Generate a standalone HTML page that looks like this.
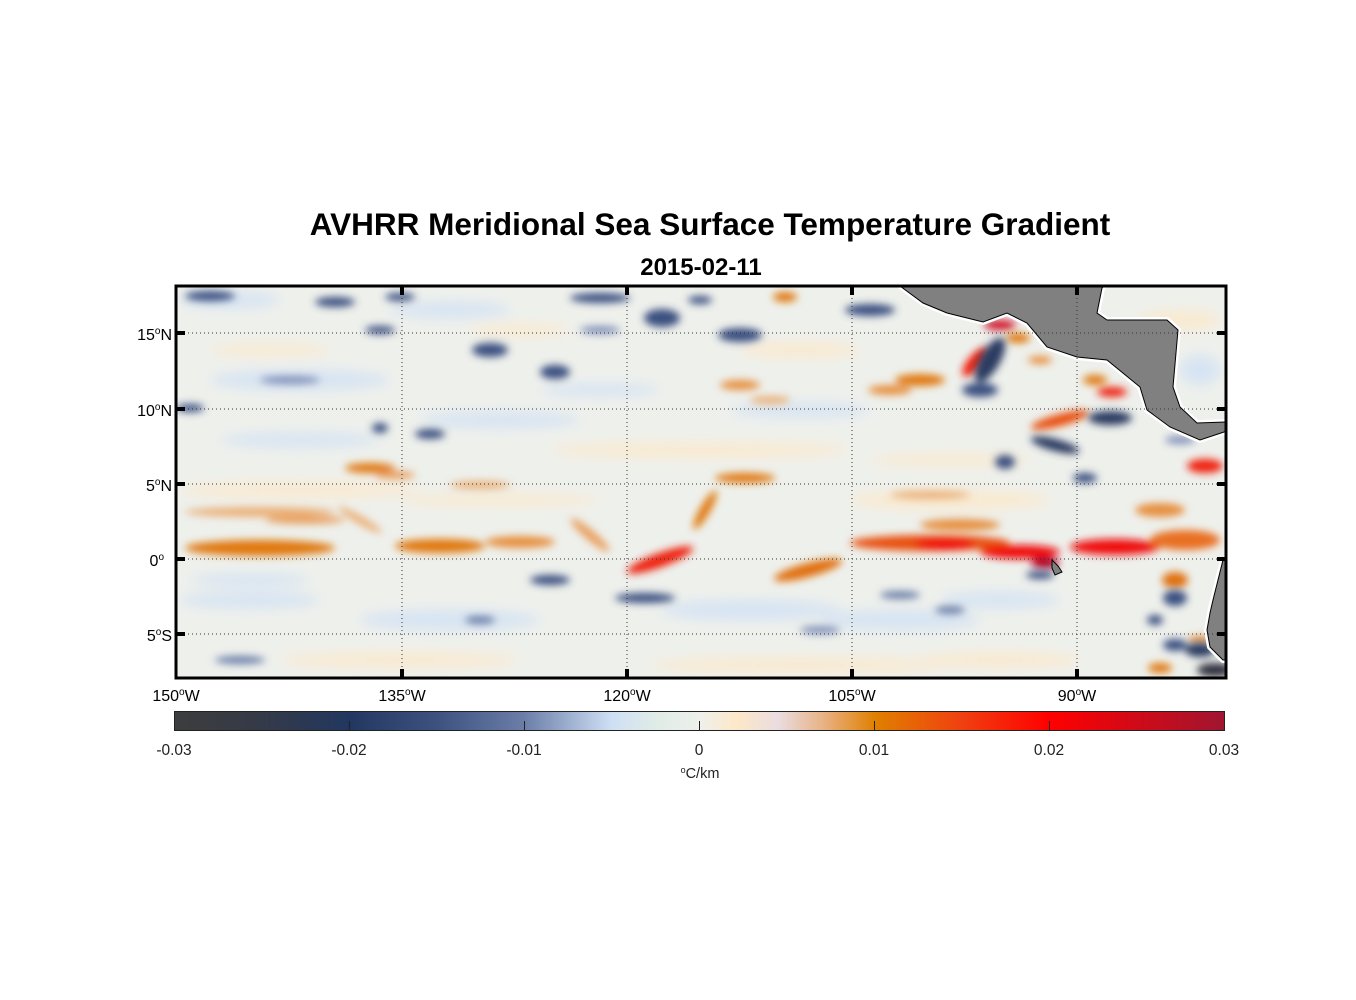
<!DOCTYPE html>
<html><head><meta charset="utf-8"><style>
html,body{margin:0;padding:0;background:#fff;width:1356px;height:1000px;overflow:hidden;font-family:"Liberation Sans",Arial,sans-serif}
</style></head><body>
<svg width="1356" height="1000" viewBox="0 0 1356 1000" xmlns="http://www.w3.org/2000/svg" font-family="Liberation Sans, Arial, sans-serif">
<defs>
<linearGradient id="cb" x1="0" x2="1" y1="0" y2="0">
<stop offset="0" stop-color="#3d3d3d"/><stop offset="0.083" stop-color="#343a48"/>
<stop offset="0.167" stop-color="#223760"/><stop offset="0.25" stop-color="#3e5280"/>
<stop offset="0.333" stop-color="#6a7ea8"/><stop offset="0.417" stop-color="#cfe0f5"/>
<stop offset="0.46" stop-color="#e0ece6"/><stop offset="0.5" stop-color="#eef0ec"/>
<stop offset="0.535" stop-color="#fde8c8"/><stop offset="0.575" stop-color="#eadce0"/>
<stop offset="0.62" stop-color="#e8b080"/><stop offset="0.667" stop-color="#e08000"/>
<stop offset="0.75" stop-color="#f04010"/><stop offset="0.833" stop-color="#ff0000"/>
<stop offset="1" stop-color="#a01530"/>
</linearGradient>
<filter id="b1" x="-50%" y="-50%" width="200%" height="200%"><feGaussianBlur stdDeviation="4"/></filter>
<filter id="b2" x="-50%" y="-50%" width="200%" height="200%"><feGaussianBlur stdDeviation="6"/></filter>
<clipPath id="map"><rect x="176" y="286" width="1050" height="392"/></clipPath>
</defs>
<text x="710" y="235" text-anchor="middle" font-size="31.5" font-weight="bold">AVHRR Meridional Sea Surface Temperature Gradient</text>
<text x="701" y="275" text-anchor="middle" font-size="24" font-weight="bold">2015-02-11</text>
<g clip-path="url(#map)">
<rect x="176" y="286" width="1050" height="392" fill="#eef0ec"/>
<g filter="url(#b2)" opacity="0.75">
<ellipse cx="230" cy="300" rx="50" ry="8" fill="#cfe0f5"/>
<ellipse cx="300" cy="380" rx="90" ry="10" fill="#cfe0f5"/>
<ellipse cx="270" cy="350" rx="60" ry="6" fill="#fde8c8"/>
<ellipse cx="450" cy="310" rx="60" ry="8" fill="#cfe0f5"/>
<ellipse cx="520" cy="330" rx="50" ry="6" fill="#fde8c8"/>
<ellipse cx="500" cy="420" rx="80" ry="8" fill="#cfe0f5"/>
<ellipse cx="300" cy="440" rx="80" ry="7" fill="#cfe0f5"/>
<ellipse cx="600" cy="390" rx="60" ry="6" fill="#cfe0f5"/>
<ellipse cx="800" cy="410" rx="70" ry="7" fill="#cfe0f5"/>
<ellipse cx="800" cy="350" rx="60" ry="8" fill="#fde8c8"/>
<ellipse cx="250" cy="600" rx="70" ry="8" fill="#cfe0f5"/>
<ellipse cx="250" cy="580" rx="60" ry="6" fill="#cfe0f5"/>
<ellipse cx="450" cy="620" rx="90" ry="10" fill="#cfe0f5"/>
<ellipse cx="750" cy="610" rx="90" ry="10" fill="#cfe0f5"/>
<ellipse cx="900" cy="620" rx="80" ry="10" fill="#cfe0f5"/>
<ellipse cx="1000" cy="600" rx="60" ry="8" fill="#cfe0f5"/>
<ellipse cx="400" cy="660" rx="120" ry="8" fill="#fde8c8"/>
<ellipse cx="800" cy="665" rx="150" ry="8" fill="#fde8c8"/>
<ellipse cx="1000" cy="660" rx="80" ry="8" fill="#fde8c8"/>
<ellipse cx="700" cy="450" rx="150" ry="8" fill="#fde8c8"/>
<ellipse cx="300" cy="490" rx="120" ry="8" fill="#fde8c8"/>
<ellipse cx="950" cy="500" rx="100" ry="10" fill="#fde8c8"/>
<ellipse cx="950" cy="460" rx="80" ry="6" fill="#fde8c8"/>
<ellipse cx="500" cy="500" rx="100" ry="6" fill="#fde8c8"/>
<ellipse cx="1180" cy="320" rx="40" ry="10" fill="#fde8c8"/>
<ellipse cx="1200" cy="370" rx="20" ry="15" fill="#cfe0f5"/>
</g>
<g filter="url(#b1)">
<ellipse cx="260" cy="512" rx="75" ry="5" fill="#eab078"/>
<ellipse cx="260" cy="548" rx="75" ry="8" fill="#e07810"/>
<ellipse cx="305" cy="520" rx="40" ry="4" fill="#e8a060"/>
<ellipse cx="370" cy="468" rx="25" ry="5" fill="#e07810"/>
<ellipse cx="395" cy="475" rx="20" ry="4" fill="#e8a060"/>
<ellipse cx="360" cy="520" rx="25" ry="4" fill="#eab078" transform="rotate(30 360 520)"/>
<ellipse cx="440" cy="546" rx="45" ry="7" fill="#e07810"/>
<ellipse cx="520" cy="542" rx="35" ry="6" fill="#e69040"/>
<ellipse cx="480" cy="485" rx="30" ry="4" fill="#eab078"/>
<ellipse cx="590" cy="535" rx="25" ry="5" fill="#e8a060" transform="rotate(40 590 535)"/>
<ellipse cx="660" cy="560" rx="35" ry="7" fill="#ee2010" transform="rotate(-20 660 560)"/>
<ellipse cx="705" cy="510" rx="22" ry="5" fill="#e07810" transform="rotate(-60 705 510)"/>
<ellipse cx="745" cy="478" rx="30" ry="5" fill="#e07810"/>
<ellipse cx="808" cy="570" rx="35" ry="7" fill="#e07010" transform="rotate(-15 808 570)"/>
<ellipse cx="785" cy="297" rx="12" ry="5" fill="#e07810"/>
<ellipse cx="740" cy="385" rx="20" ry="5" fill="#e69040"/>
<ellipse cx="770" cy="400" rx="20" ry="4" fill="#eab078"/>
<ellipse cx="890" cy="390" rx="22" ry="5" fill="#e69040"/>
<ellipse cx="930" cy="543" rx="80" ry="8" fill="#e85010"/>
<ellipse cx="960" cy="525" rx="40" ry="6" fill="#e69040"/>
<ellipse cx="930" cy="495" rx="40" ry="4" fill="#eab078"/>
<ellipse cx="945" cy="544" rx="30" ry="6" fill="#f01010"/>
<ellipse cx="1020" cy="552" rx="40" ry="7" fill="#f01010"/>
<ellipse cx="1045" cy="563" rx="14" ry="6" fill="#b01030"/>
<ellipse cx="1115" cy="547" rx="45" ry="8" fill="#ef1010"/>
<ellipse cx="1185" cy="540" rx="35" ry="10" fill="#e87020"/>
<ellipse cx="1175" cy="580" rx="13" ry="8" fill="#e07010"/>
<ellipse cx="1160" cy="510" rx="25" ry="7" fill="#e69040"/>
<ellipse cx="1205" cy="466" rx="18" ry="7" fill="#f02010"/>
<ellipse cx="1095" cy="380" rx="12" ry="5" fill="#e07810"/>
<ellipse cx="1112" cy="392" rx="15" ry="5" fill="#ee2010"/>
<ellipse cx="1060" cy="420" rx="30" ry="6" fill="#e85010" transform="rotate(-15 1060 420)"/>
<ellipse cx="1000" cy="325" rx="16" ry="5" fill="#d01028"/>
<ellipse cx="1018" cy="338" rx="12" ry="5" fill="#e07810"/>
<ellipse cx="975" cy="362" rx="7" ry="18" fill="#f02010" transform="rotate(40 975 362)"/>
<ellipse cx="920" cy="380" rx="25" ry="6" fill="#e07810"/>
<ellipse cx="1040" cy="360" rx="12" ry="4" fill="#e69040"/>
<ellipse cx="1160" cy="668" rx="12" ry="5" fill="#e07810"/>
<ellipse cx="1200" cy="640" rx="12" ry="4" fill="#e69040"/>
</g>
<g filter="url(#b1)" fill="#3a5080">
<ellipse cx="210" cy="296" rx="25" ry="5"/>
<ellipse cx="335" cy="302" rx="20" ry="5"/>
<ellipse cx="400" cy="297" rx="15" ry="4"/>
<ellipse cx="490" cy="350" rx="18" ry="7"/>
<ellipse cx="555" cy="372" rx="15" ry="7"/>
<ellipse cx="600" cy="298" rx="30" ry="5"/>
<ellipse cx="662" cy="318" rx="18" ry="9"/>
<ellipse cx="740" cy="335" rx="22" ry="7"/>
<ellipse cx="700" cy="300" rx="12" ry="4"/>
<ellipse cx="380" cy="330" rx="15" ry="4"/>
<ellipse cx="190" cy="408" rx="14" ry="4"/>
<ellipse cx="430" cy="434" rx="15" ry="5"/>
<ellipse cx="380" cy="428" rx="8" ry="5"/>
<ellipse cx="645" cy="598" rx="30" ry="5"/>
<ellipse cx="550" cy="580" rx="20" ry="5"/>
<ellipse cx="870" cy="310" rx="25" ry="6"/>
<ellipse cx="990" cy="360" rx="10" ry="25" fill="#2a3a60" transform="rotate(30 990 360)"/>
<ellipse cx="980" cy="390" rx="18" ry="7"/>
<ellipse cx="1110" cy="418" rx="22" ry="7" fill="#2a3a60"/>
<ellipse cx="1055" cy="445" rx="25" ry="6" fill="#2a3a60" transform="rotate(15 1055 445)"/>
<ellipse cx="1085" cy="478" rx="12" ry="5"/>
<ellipse cx="1005" cy="462" rx="10" ry="7"/>
<ellipse cx="1040" cy="575" rx="14" ry="4"/>
<ellipse cx="1175" cy="598" rx="12" ry="8"/>
<ellipse cx="1155" cy="620" rx="8" ry="5"/>
<ellipse cx="1200" cy="650" rx="15" ry="7" fill="#2a3a60"/>
<ellipse cx="1175" cy="645" rx="12" ry="6"/>
<ellipse cx="1215" cy="670" rx="18" ry="7" fill="#303040"/>
<ellipse cx="240" cy="660" rx="25" ry="4" fill="#6a7ea8"/>
<ellipse cx="900" cy="595" rx="20" ry="4" fill="#6a7ea8"/>
<ellipse cx="950" cy="610" rx="15" ry="4" fill="#6a7ea8"/>
<ellipse cx="480" cy="620" rx="15" ry="4" fill="#6a7ea8"/>
<ellipse cx="290" cy="380" rx="30" ry="4" fill="#8090b8"/>
<ellipse cx="600" cy="330" rx="20" ry="4" fill="#8090b8"/>
<ellipse cx="820" cy="630" rx="20" ry="4" fill="#8090b8"/>
<ellipse cx="1180" cy="440" rx="15" ry="4" fill="#8090b8"/>
</g>
<g fill="#808080" stroke="#fff" stroke-width="6" stroke-linejoin="round">
<polygon points="900,286 923,303 947,313 983,322 1007,313 1027,323 1047,347 1077,357 1107,360 1140,387 1147,410 1170,427 1200,440 1224,432 1227,430 1227,422 1197,423 1180,407 1173,387 1178,330 1167,320 1107,320 1097,313 1102,288 1104,286"/>
<polygon points="1227,560 1223,560 1213,600 1210,613 1207,630 1210,647 1223,660 1227,660"/>
</g>
<g fill="#808080" stroke="#000" stroke-width="1">
<polygon points="900,286 923,303 947,313 983,322 1007,313 1027,323 1047,347 1077,357 1107,360 1140,387 1147,410 1170,427 1200,440 1224,432 1227,430 1227,422 1197,423 1180,407 1173,387 1178,330 1167,320 1107,320 1097,313 1102,288 1104,286"/>
<polygon points="1227,560 1223,560 1213,600 1210,613 1207,630 1210,647 1223,660 1227,660"/>
<polygon points="1052,560 1058,566 1062,572 1055,575 1052,568"/>
</g>
</g>
<g stroke="#333" stroke-width="1" stroke-dasharray="1,3">
<line x1="402" y1="286" x2="402" y2="678"/><line x1="627" y1="286" x2="627" y2="678"/>
<line x1="852" y1="286" x2="852" y2="678"/><line x1="1077" y1="286" x2="1077" y2="678"/>
<line x1="176" y1="333" x2="1226" y2="333"/><line x1="176" y1="409" x2="1226" y2="409"/>
<line x1="176" y1="484" x2="1226" y2="484"/><line x1="176" y1="559" x2="1226" y2="559"/>
<line x1="176" y1="634" x2="1226" y2="634"/>
</g>
<rect x="176" y="286" width="1050" height="392" fill="none" stroke="#000" stroke-width="3"/>
<g stroke="#000" stroke-width="4">
<line x1="402" y1="286" x2="402" y2="295"/><line x1="627" y1="286" x2="627" y2="295"/><line x1="852" y1="286" x2="852" y2="295"/><line x1="1077" y1="286" x2="1077" y2="295"/>
<line x1="402" y1="669" x2="402" y2="678"/><line x1="627" y1="669" x2="627" y2="678"/><line x1="852" y1="669" x2="852" y2="678"/><line x1="1077" y1="669" x2="1077" y2="678"/>
<line x1="176" y1="333" x2="185" y2="333"/><line x1="176" y1="409" x2="185" y2="409"/><line x1="176" y1="484" x2="185" y2="484"/><line x1="176" y1="559" x2="185" y2="559"/><line x1="176" y1="634" x2="185" y2="634"/>
<line x1="1217" y1="333" x2="1226" y2="333"/><line x1="1217" y1="409" x2="1226" y2="409"/><line x1="1217" y1="484" x2="1226" y2="484"/><line x1="1217" y1="559" x2="1226" y2="559"/><line x1="1217" y1="634" x2="1226" y2="634"/>
</g>
<g font-size="16" fill="#000">
<text x="172" y="340" text-anchor="end">15<tspan dy="-6" font-size="10">o</tspan><tspan dy="6">N</tspan></text>
<text x="172" y="416" text-anchor="end">10<tspan dy="-6" font-size="10">o</tspan><tspan dy="6">N</tspan></text>
<text x="172" y="491" text-anchor="end">5<tspan dy="-6" font-size="10">o</tspan><tspan dy="6">N</tspan></text>
<text x="164" y="566" text-anchor="end">0<tspan dy="-6" font-size="10">o</tspan></text>
<text x="172" y="641" text-anchor="end">5<tspan dy="-6" font-size="10">o</tspan><tspan dy="6">S</tspan></text>
<text x="176" y="701" text-anchor="middle">150<tspan dy="-6" font-size="10">o</tspan><tspan dy="6">W</tspan></text>
<text x="402" y="701" text-anchor="middle">135<tspan dy="-6" font-size="10">o</tspan><tspan dy="6">W</tspan></text>
<text x="627" y="701" text-anchor="middle">120<tspan dy="-6" font-size="10">o</tspan><tspan dy="6">W</tspan></text>
<text x="852" y="701" text-anchor="middle">105<tspan dy="-6" font-size="10">o</tspan><tspan dy="6">W</tspan></text>
<text x="1077" y="701" text-anchor="middle">90<tspan dy="-6" font-size="10">o</tspan><tspan dy="6">W</tspan></text>
</g>
<rect x="174.5" y="711.5" width="1050" height="19" fill="url(#cb)" stroke="#222" stroke-width="1"/>
<g stroke="#222" stroke-width="1">
<line x1="349.5" y1="721" x2="349.5" y2="730"/><line x1="524.5" y1="721" x2="524.5" y2="730"/>
<line x1="699.5" y1="721" x2="699.5" y2="730"/><line x1="874.5" y1="721" x2="874.5" y2="730"/>
<line x1="1049.5" y1="721" x2="1049.5" y2="730"/>
</g>
<g font-size="15.5" fill="#222" text-anchor="middle">
<text x="174" y="755">-0.03</text><text x="349" y="755">-0.02</text><text x="524" y="755">-0.01</text>
<text x="699" y="755">0</text><text x="874" y="755">0.01</text><text x="1049" y="755">0.02</text><text x="1224" y="755">0.03</text>
<text x="700" y="778" font-size="14.5"><tspan dy="-5" font-size="9">o</tspan><tspan dy="5">C/km</tspan></text>
</g>
</svg>
</body></html>
